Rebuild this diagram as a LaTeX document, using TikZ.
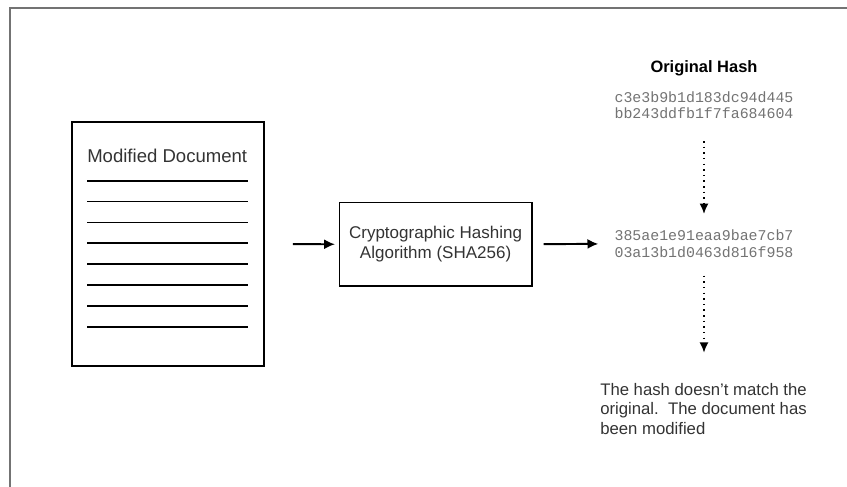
\documentclass[tikz,border=0pt]{standalone}
\usepackage{fontspec}
\setmainfont{Liberation Sans}
\setmonofont{Liberation Mono}
\usetikzlibrary{positioning,arrows.meta,calc}
\definecolor{framegray}{gray}{0.45}
\definecolor{hashgray}{gray}{0.45}
\definecolor{textgray}{gray}{0.2}
\tikzset{
  flowarrow/.style={-{Latex[length=2.7mm,width=2.5mm]}, line width=1.4pt},
  dotarrow/.style={-{Latex[length=2.6mm,width=2.3mm]}, line width=1.3pt, dash pattern=on 1.1pt off 2.9pt},
  docbox/.style={draw, line width=1.2pt, minimum width=4.8cm, minimum height=6.1cm, inner sep=0pt},
  hashbox/.style={draw, line width=1.2pt, minimum width=4.81cm, minimum height=2.09cm, align=center, font=\fontsize{12.1}{14.2}\selectfont, text=textgray},
  hashtext/.style={font=\ttfamily\fontsize{10.6}{11.8}\selectfont, text=hashgray, align=left, inner sep=0pt},
  ruleline/.style={line width=1.3pt},
  note/.style={align=left, font=\fontsize{11.9}{14}\selectfont, text=textgray, inner sep=0pt}
}

\begin{document}
\begin{tikzpicture}[>=Latex]
  \useasboundingbox (0,0) rectangle (21.175,-12.175);
  % frame, cut at the right and bottom
  \draw[framegray, line width=1.4pt] (0.25,-12.175) -- (0.25,-0.19) -- (21.175,-0.19);

  % the document
  \node[docbox] (doc) at (4.2,-6.1) {};
  \node[anchor=west, inner sep=0pt, text=textgray, font=\fontsize{13.2}{15}\selectfont] (doctitle) at (2.175,-3.9) {Modified Document};
  \foreach \i in {0,...,7}
    \draw[ruleline] (2.175,{-4.5175-0.5215*\i}) -- (6.2,{-4.5175-0.5215*\i});

  \node[hashbox] (hash) at (10.89,-6.11) {Cryptographic Hashing\\Algorithm (SHA256)};

  \node[font=\bfseries\fontsize{11.7}{14}\selectfont] (origtitle) at (17.6,-1.71) {Original Hash};
  \node[hashtext] (orig) at (17.6,-2.625) {c3e3b9b1d183dc94d445\\bb243ddfb1f7fa684604};
  \node[hashtext] (newhash) at (17.6,-6.09) {385ae1e91eaa9bae7cb7\\03a13b1d0463d816f958};
  \node[note, anchor=west] (note) at (15.0,-10.22) {The hash doesn't match the\\original.\ \ The document has\\been modified};

  \draw[flowarrow, shorten <=0.7cm, shorten >=0.09cm] (doc) -- (hash);
  \draw[flowarrow, shorten <=0.275cm, shorten >=0.4cm] (hash) -- (newhash);
  \draw[dotarrow, shorten <=0.55cm, shorten >=0.39cm] (orig) -- (newhash);
  \draw[dotarrow, shorten <=0.45cm, shorten >=0.75cm] (newhash) -- (newhash |- note.north);
\end{tikzpicture}
\end{document}
